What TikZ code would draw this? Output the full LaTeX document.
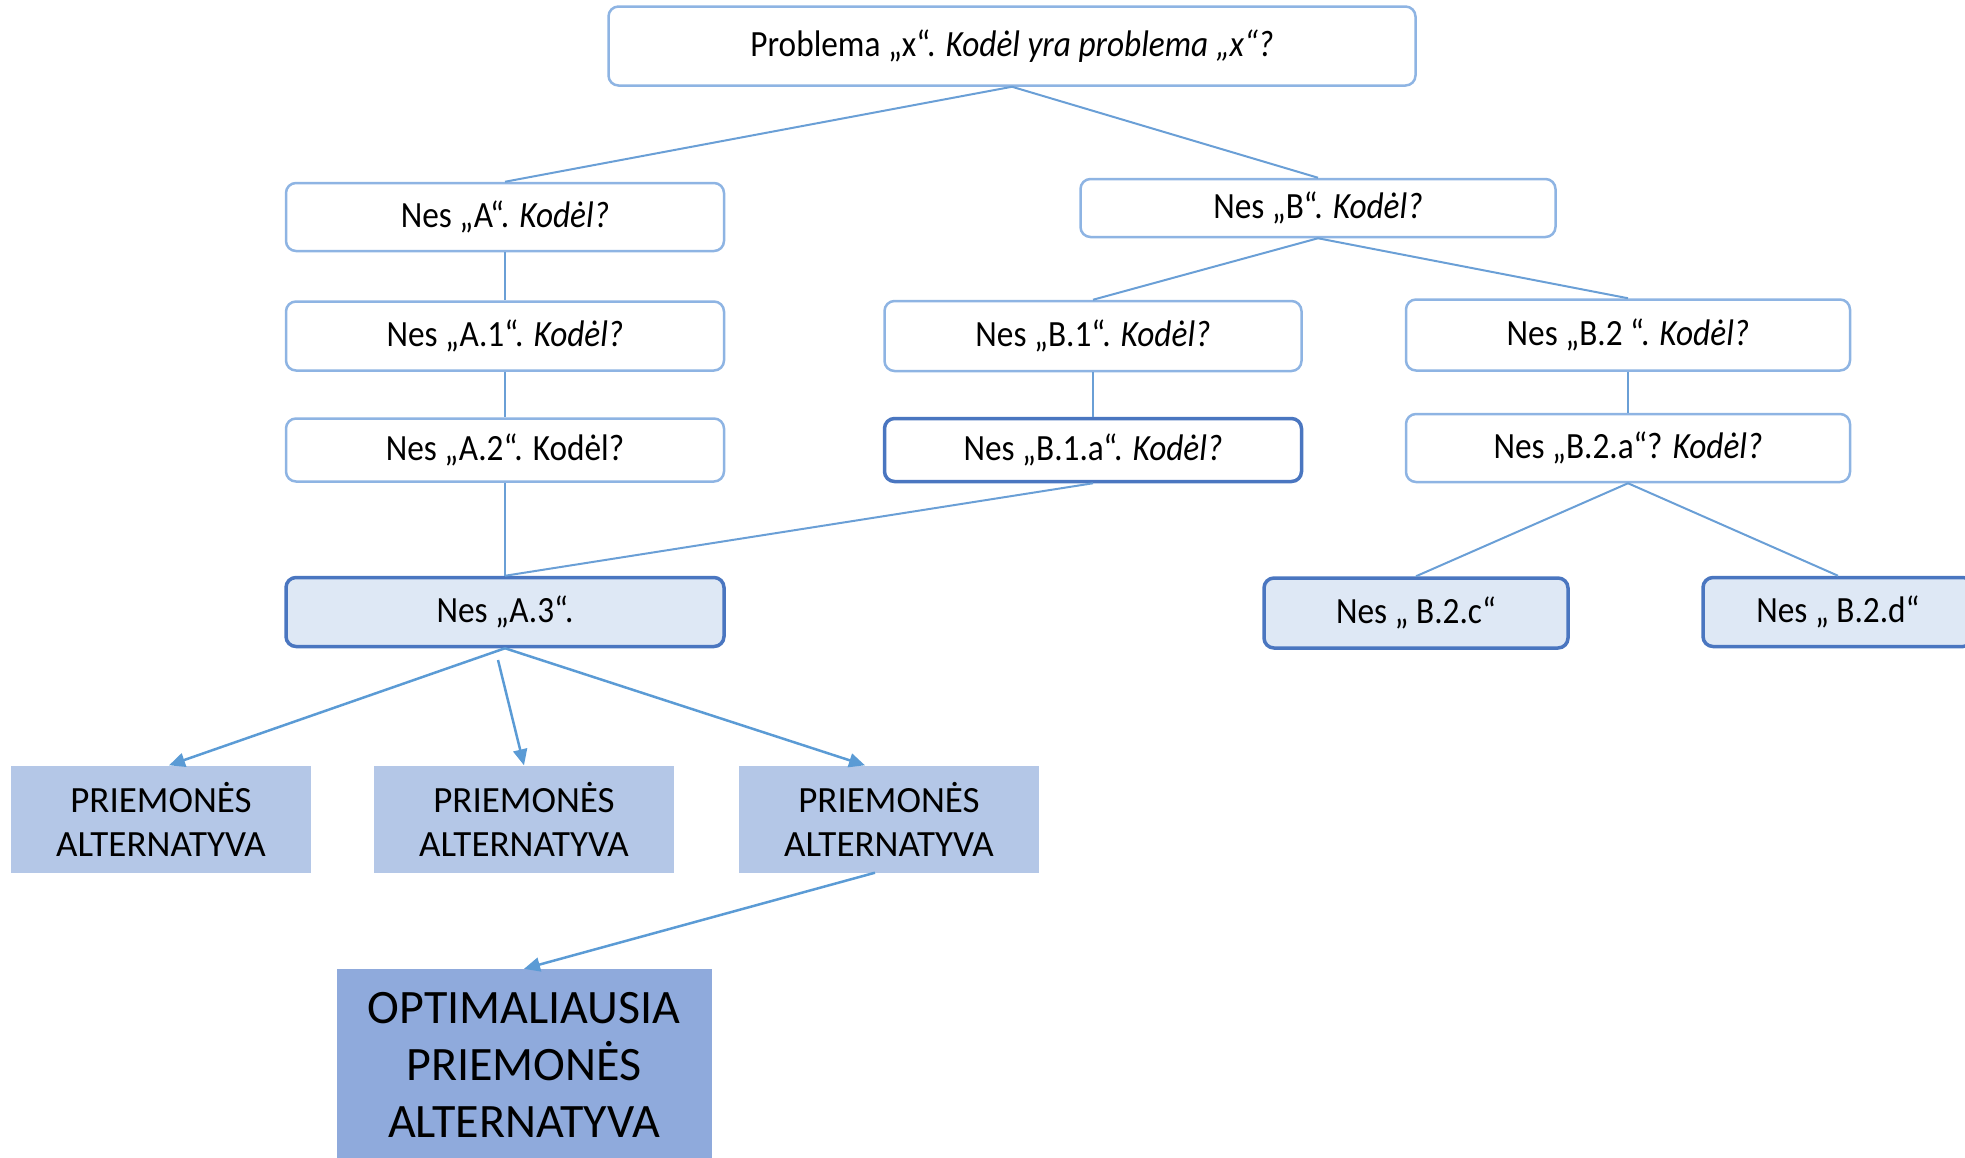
\documentclass[tikz,border=0pt]{standalone}
\usepackage{fontspec}
\setmainfont{Carlito}
\newfontfamily\narrowfont{Carlito}[FakeStretch=0.9]
\usepackage{tikz}
\usetikzlibrary{arrows.meta}

\definecolor{linkblue}{HTML}{6A9FD6}
\definecolor{arrowblue}{HTML}{5B9BD5}
\definecolor{boxline}{HTML}{8EB4E3}
\definecolor{darkline}{HTML}{4A76C0}
\definecolor{lightfill}{HTML}{DEE8F5}
\definecolor{altfill}{HTML}{B4C7E7}
\definecolor{optfill}{HTML}{8FAADC}

\begin{document}
\begin{tikzpicture}[x=1pt, y=-1pt,
  why/.style = {draw=boxline, line width=2.5pt, rounded corners=10pt, fill=white, inner sep=0pt, align=center, font=\narrowfont\fontsize{37}{44}\selectfont},
  leaf/.style = {why, draw=darkline, line width=3.5pt, fill=lightfill},
  alt/.style = {fill=altfill, inner sep=0pt, align=center, minimum width=300pt, minimum height=107pt, font=\fontsize{37}{44}\selectfont},
  best/.style = {fill=optfill, inner sep=0pt, align=center, minimum width=375pt, minimum height=192pt, font=\fontsize{48}{57}\selectfont},
  link/.style = {draw=linkblue, line width=2pt},
  pick/.style = {draw=arrowblue, line width=2.5pt, -{Triangle[length=16pt, width=14pt]}}]

\useasboundingbox (0,0) rectangle (1965,1157);

%% question boxes
\node[why, minimum width=807pt, minimum height=79pt] (top) at (1012, 46) {Problema „x“. \textit{Kodėl yra problema „x“?}};
\node[why, minimum width=438pt, minimum height=68pt] (A) at (505, 217) {Nes „A“. \textit{Kodėl?}};
\node[why, minimum width=475pt, minimum height=58pt] (B) at (1318, 208) {Nes „B“. \textit{Kodėl?}};
\node[why, minimum width=438pt, minimum height=69pt] (A1) at (505, 336) {Nes „A.1“. \textit{Kodėl?}};
\node[why, minimum width=417pt, minimum height=70pt] (B1) at (1093, 336) {Nes „B.1“. \textit{Kodėl?}};
\node[why, minimum width=444pt, minimum height=71pt] (B2) at (1628, 335) {Nes „B.2 “. \textit{Kodėl?}};
\node[why, minimum width=438pt, minimum height=63pt] (A2) at (505, 450) {Nes „A.2“. Kodėl?};
\node[why, draw=darkline, line width=3.5pt, minimum width=417pt, minimum height=63pt] (B1a) at (1093, 450) {Nes „B.1.a“. \textit{Kodėl?}};
\node[why, minimum width=444pt, minimum height=68pt] (B2a) at (1628, 448) {Nes „B.2.a“? \textit{Kodėl?}};

%% last causes
\node[leaf, minimum width=438pt, minimum height=69pt] (A3) at (505, 612) {Nes „A.3“.};
\node[leaf, minimum width=304pt, minimum height=70pt] (B2c) at (1416, 613) {Nes „ B.2.c“};
\node[leaf, minimum width=270pt, minimum height=69pt] (B2d) at (1838, 612) {Nes „ B.2.d“};

%% alternatives
\node[alt] (P1) at (161, 819) {PRIEMONĖS\\ALTERNATYVA};
\node[alt] (P2) at (524, 819) {PRIEMONĖS\\ALTERNATYVA};
\node[alt] (P3) at (889, 819) {PRIEMONĖS\\ALTERNATYVA};
\node[best] (opt) at (524, 1065) {OPTIMALIAUSIA\\PRIEMONĖS\\ALTERNATYVA};

\coordinate (a3mid) at (498, 660);

%%% edges
\draw[link] (top.south) -- (A.north);
\draw[link] (top.south) -- (B.north);
\draw[link] (A) -- (A1) -- (A2) -- (A3);
\draw[link] (B.south) -- (B1.north);
\draw[link] (B.south) -- (B2.north);
\draw[link] (B1) -- (B1a);
\draw[link] (B2) -- (B2a);
\draw[link] (B1a.south) -- (A3.north);
\draw[link] (B2a.south) -- (B2c.north);
\draw[link] (B2a.south) -- (B2d.north);

\draw[pick] (A3.south) -- ([xshift=8pt]P1.north);
\draw[pick] (a3mid) -- (P2.north);
\draw[pick] (A3.south) -- ([xshift=-24pt]P3.north);
\draw[pick] ([xshift=-14pt]P3.south) -- (opt.north);

\end{tikzpicture}
\end{document}
